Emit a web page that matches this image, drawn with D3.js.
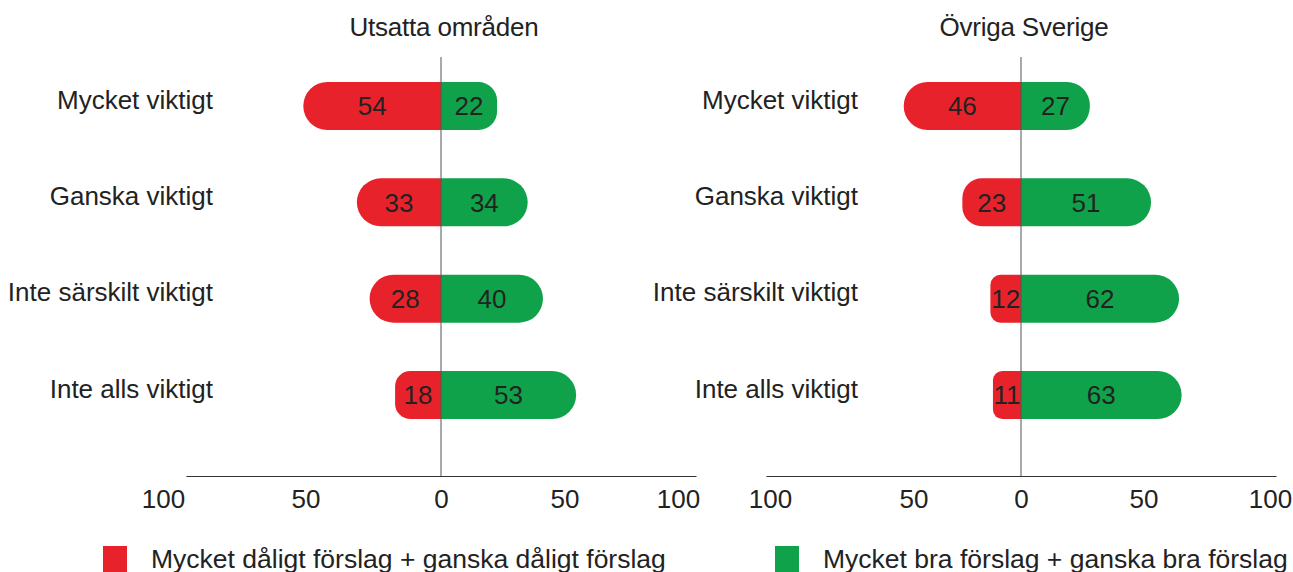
<!doctype html>
<html>
  <head>
    <meta charset="utf-8">
    <style>
      body { margin: 0; background: #fff; }
      svg text { font-family: "Liberation Sans", Arial, sans-serif; fill: #222; }
    </style>
    <script src="https://cdn.jsdelivr.net/npm/d3@7/dist/d3.min.js"></script>
  </head>
  <body>
    <svg id="chart" width="1293" height="572"></svg>
    <script>

    var categories = ["Mycket viktigt", "Ganska viktigt", "Inte särskilt viktigt", "Inte alls viktigt"];
    var panels = ["Utsatta områden", "Övriga Sverige"];
    var badValues = [[54, 33, 28, 18], [46, 23, 12, 11]];
    var goodValues = [[22, 34, 40, 53], [27, 51, 62, 63]];
    var tickValues = [-100, -50, 0, 50, 100];
    var legendLabels = ["Mycket dåligt förslag + ganska dåligt förslag", "Mycket bra förslag + ganska bra förslag"];

    var red = "#e8222b", green = "#10a24b";
    var svg = d3.select("#chart");

    var y = d3.scalePoint().domain(categories).range([106, 395]);
    var barH = 48;
    var ranges = [[186, 696], [766, 1276]];
    var labelX = [213, 858];
    // the source nudges its tick labels a bit off the ticks
    var tickNudge = [[-23, -8, 0, -4, -18], [4, 20, 0, -5, -6]];

    // bar with one rounded outer end; dir = -1 goes left
    var pill = function(x0, x1, yc, dir) {
      var w = Math.abs(x1 - x0), r = Math.min(barH / 2, w / 3);
      var t = yc - barH / 2, b = yc + barH / 2;
      var p = d3.path();
      p.moveTo(x0, t);
      p.lineTo(x1 - dir * r, t);
      p.arcTo(x1, t, x1, t + r, r);
      p.lineTo(x1, b - r);
      p.arcTo(x1, b, x1 - dir * r, b, r);
      p.lineTo(x0, b);
      p.closePath();
      return p.toString();
    };

    panels.forEach(function(title, i) {
      var x = d3.scaleLinear().domain([-100, 100]).range(ranges[i]);
      var g = svg.append("g");
      var x0 = x(0);

      g.append("text").attr("x", x0 + 3).attr("y", 36)
        .attr("text-anchor", "middle").style("font-size", "26px").style("letter-spacing", "-0.2px")
        .text(title);

      var rows = categories.map(function(c, j) {
        return { cat: c, bad: badValues[i][j], good: goodValues[i][j] };
      });

      g.selectAll(".bad").data(rows).enter().append("path")
        .attr("d", function(d) { return pill(x0, x(-d.bad), y(d.cat), -1); })
        .style("fill", red);
      g.selectAll(".good").data(rows).enter().append("path")
        .attr("d", function(d) { return pill(x0, x(d.good), y(d.cat), 1); })
        .style("fill", green);

      g.selectAll(".bv").data(rows).enter().append("text")
        .attr("x", function(d) { return (x0 + x(-d.bad)) / 2; })
        .attr("y", function(d) { return y(d.cat); })
        .attr("dy", "0.36em").attr("text-anchor", "middle").style("font-size", "26px")
        .text(function(d) { return d.bad; });
      g.selectAll(".gv").data(rows).enter().append("text")
        .attr("x", function(d) { return (x0 + x(d.good)) / 2; })
        .attr("y", function(d) { return y(d.cat); })
        .attr("dy", "0.36em").attr("text-anchor", "middle").style("font-size", "26px")
        .text(function(d) { return d.good; });

      g.selectAll(".cat").data(categories).enter().append("text")
        .attr("x", labelX[i]).attr("y", function(d) { return y(d); })
        .attr("dy", "0.1em").attr("text-anchor", "end").style("font-size", "26px")
        .text(function(d) { return d; });

      // zero line over bars
      g.append("line").attr("x1", x0).attr("x2", x0).attr("y1", 57).attr("y2", 476)
        .style("stroke", "#555").style("stroke-width", 1);

      var axis = d3.axisBottom(x).tickValues(tickValues).tickSize(0).tickPadding(14)
        .tickFormat(function(d) { return Math.abs(d); });
      var ax = g.append("g").attr("transform", "translate(0,476)").call(axis);
      ax.select(".domain").style("stroke", "#333");
      ax.selectAll("text").style("font-size", "26px").style("font-family", "Liberation Sans, Arial, sans-serif")
        .style("fill", "#222")
        .attr("dx", function(d, k) { return tickNudge[i][k]; });
    });

    // legend
    var legendX = [103, 775];
    legendLabels.forEach(function(t, i) {
      svg.append("rect").attr("x", legendX[i]).attr("y", 546).attr("width", 24).attr("height", 30)
        .style("fill", i === 0 ? red : green);
      svg.append("text").attr("x", legendX[i] + 48).attr("y", 568)
        .style("font-size", "26.5px").text(t);
    });

    </script>
  </body>
</html>
